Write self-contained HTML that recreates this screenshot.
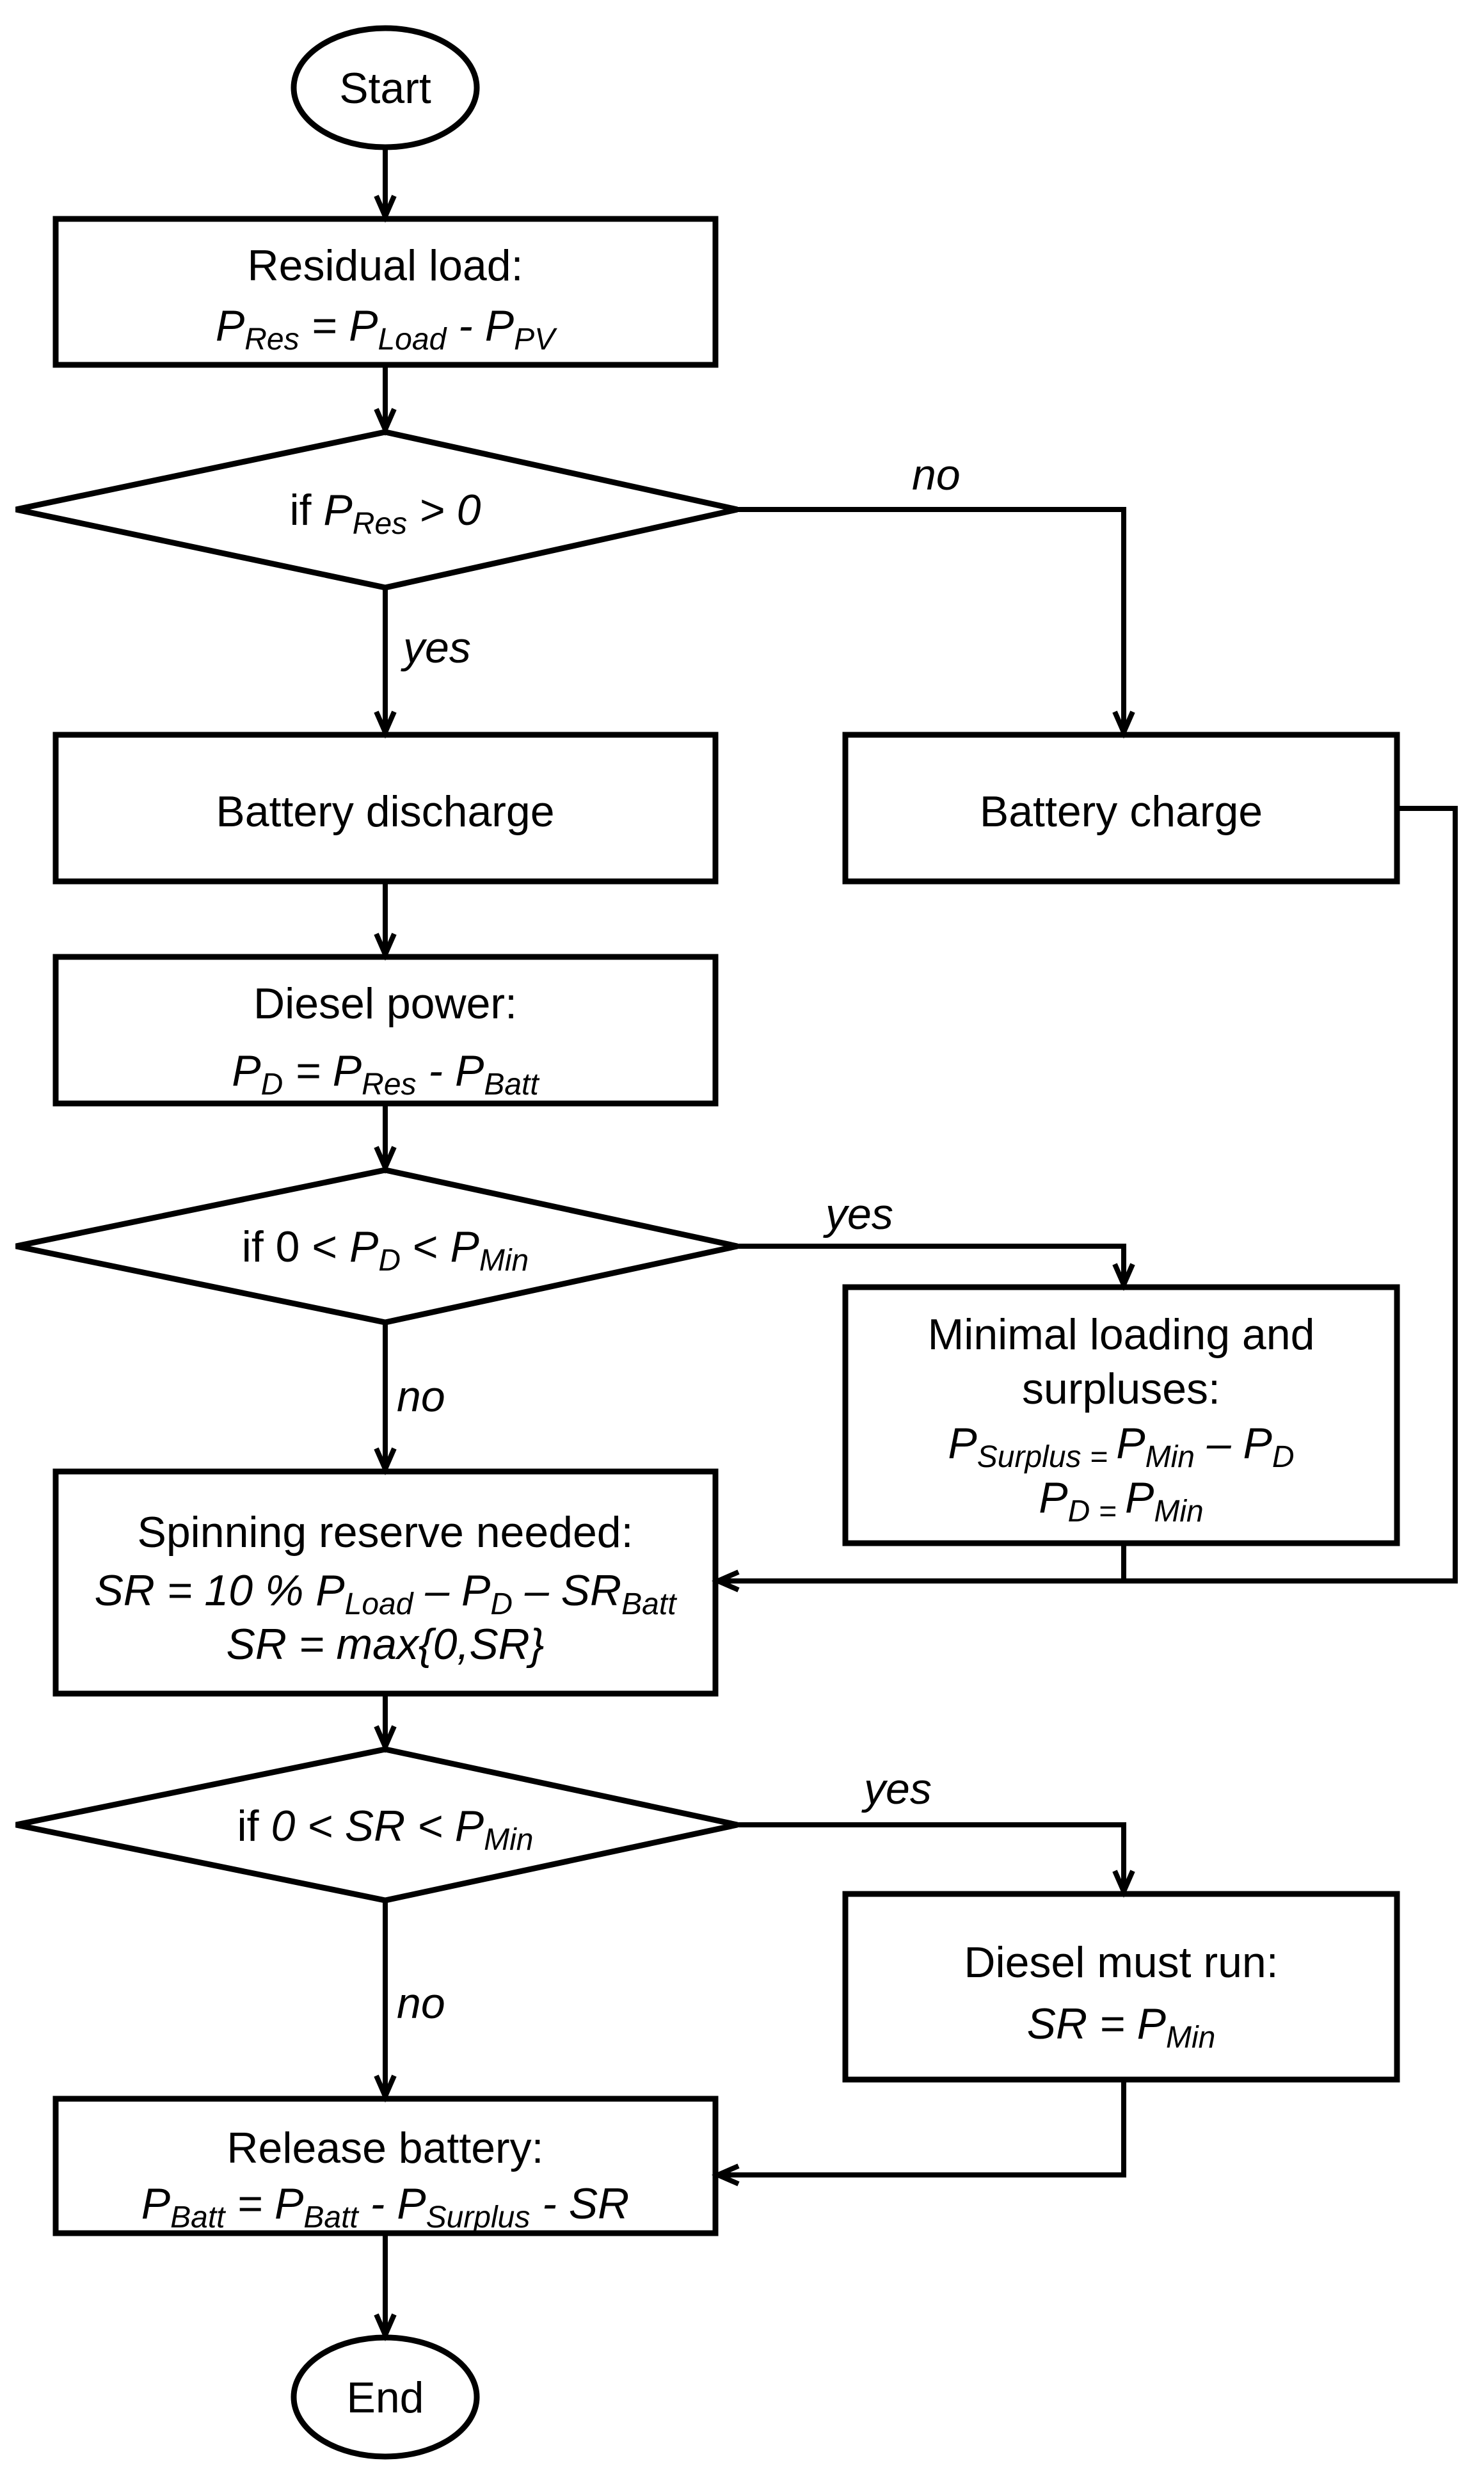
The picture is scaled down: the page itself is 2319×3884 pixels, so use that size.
<!DOCTYPE html>
<html><head><meta charset="utf-8"><style>
html,body{margin:0;padding:0;background:#fff}
svg{display:block}
text{font-family:"Liberation Sans",Arial,sans-serif;font-size:68px;fill:#000}
.i{font-style:italic}
.s{font-size:48px;font-style:italic}
</style></head><body>
<svg width="2319" height="3884" viewBox="0 0 2319 3884" xmlns="http://www.w3.org/2000/svg">
<g fill="none" stroke="#000" stroke-width="9" stroke-linejoin="miter">
<ellipse cx="602" cy="137" rx="143" ry="93"/>
<rect x="87" y="342" width="1031" height="228"/>
<polygon points="25,796 602,675 1152,796 602,918"/>
<rect x="87" y="1148" width="1031" height="229"/>
<rect x="1321" y="1148" width="862" height="229"/>
<rect x="87" y="1495" width="1031" height="229"/>
<polygon points="25,1947 602,1828 1152,1947 602,2066"/>
<rect x="1321" y="2011" width="862" height="400"/>
<rect x="87" y="2299" width="1031" height="347"/>
<polygon points="25,2851 602,2733 1152,2851 602,2969"/>
<rect x="1321" y="2959" width="862" height="290"/>
<rect x="87" y="3279" width="1031" height="210"/>
<ellipse cx="602" cy="3745" rx="143" ry="93"/>
</g>
<g fill="none" stroke="#000" stroke-width="8">
<!-- connectors -->
<line x1="602" y1="230" x2="602" y2="338"/>
<line x1="602" y1="570" x2="602" y2="671"/>
<line x1="602" y1="918" x2="602" y2="1144"/>
<polyline points="1152,796 1756,796 1756,1144"/>
<line x1="602" y1="1377" x2="602" y2="1491"/>
<line x1="602" y1="1724" x2="602" y2="1824"/>
<polyline points="1152,1947 1756,1947 1756,2007"/>
<line x1="602" y1="2066" x2="602" y2="2295"/>
<polyline points="2183,1263 2274,1263 2274,2470 1122,2470"/>
<line x1="1756" y1="2411" x2="1756" y2="2470"/>
<line x1="602" y1="2646" x2="602" y2="2729"/>
<polyline points="1152,2851 1756,2851 1756,2955"/>
<line x1="602" y1="2969" x2="602" y2="3275"/>
<polyline points="1756,3249 1756,3398 1122,3398"/>
<line x1="602" y1="3489" x2="602" y2="3648"/>
<!-- arrowheads -->
<polyline points="588,306 602,338 616,306"/>
<polyline points="588,639 602,671 616,639"/>
<polyline points="588,1112 602,1144 616,1112"/>
<polyline points="1742,1112 1756,1144 1770,1112"/>
<polyline points="588,1459 602,1491 616,1459"/>
<polyline points="588,1792 602,1824 616,1792"/>
<polyline points="1742,1975 1756,2007 1770,1975"/>
<polyline points="588,2263 602,2295 616,2263"/>
<polyline points="1154,2456 1122,2470 1154,2484"/>
<polyline points="588,2697 602,2729 616,2697"/>
<polyline points="1742,2923 1756,2955 1770,2923"/>
<polyline points="588,3243 602,3275 616,3243"/>
<polyline points="1154,3384 1122,3398 1154,3412"/>
<polyline points="588,3616 602,3648 616,3616"/>
</g>
<g text-anchor="middle">
<text x="602" y="161">Start</text>
<text x="602" y="438">Residual load:</text>
<text x="602" y="532" class="i">P<tspan class="s" dy="14">Res</tspan><tspan dy="-14"> = P</tspan><tspan class="s" dy="14">Load</tspan><tspan dy="-14"> - P</tspan><tspan class="s" dy="14">PV</tspan></text>
<text x="602" y="820">if <tspan class="i">P</tspan><tspan class="s" dy="14">Res</tspan><tspan class="i" dy="-14"> &gt; 0</tspan></text>
<text x="602" y="1291">Battery discharge</text>
<text x="1752" y="1291">Battery charge</text>
<text x="602" y="1591">Diesel power:</text>
<text x="602" y="1696" class="i">P<tspan class="s" dy="14">D</tspan><tspan dy="-14"> = P</tspan><tspan class="s" dy="14">Res</tspan><tspan dy="-14"> - P</tspan><tspan class="s" dy="14">Batt</tspan></text>
<text x="602" y="1971">if 0 &lt; <tspan class="i">P</tspan><tspan class="s" dy="14">D</tspan><tspan dy="-14"> &lt; </tspan><tspan class="i">P</tspan><tspan class="s" dy="14">Min</tspan></text>
<text x="1752" y="2108">Minimal loading and</text>
<text x="1752" y="2193">surpluses:</text>
<text x="1752" y="2278" class="i">P<tspan class="s" dy="14">Surplus = </tspan><tspan dy="-14">P</tspan><tspan class="s" dy="14">Min</tspan><tspan dy="-14"> – P</tspan><tspan class="s" dy="14">D</tspan></text>
<text x="1752" y="2363" class="i">P<tspan class="s" dy="14">D = </tspan><tspan dy="-14">P</tspan><tspan class="s" dy="14">Min</tspan></text>
<text x="602" y="2417">Spinning reserve needed:</text>
<text x="602" y="2508" class="i">SR = 10 % P<tspan class="s" dy="14">Load</tspan><tspan dy="-14"> – P</tspan><tspan class="s" dy="14">D</tspan><tspan dy="-14"> – SR</tspan><tspan class="s" dy="14">Batt</tspan></text>
<text x="602" y="2592" class="i">SR = max{0,SR}</text>
<text x="602" y="2876">if <tspan class="i">0 &lt; SR &lt; P</tspan><tspan class="s" dy="14">Min</tspan></text>
<text x="1752" y="3089">Diesel must run:</text>
<text x="1752" y="3185" class="i">SR = P<tspan class="s" dy="14">Min</tspan></text>
<text x="602" y="3379">Release battery:</text>
<text x="602" y="3466" class="i">P<tspan class="s" dy="14">Batt</tspan><tspan dy="-14"> = P</tspan><tspan class="s" dy="14">Batt</tspan><tspan dy="-14"> - P</tspan><tspan class="s" dy="14">Surplus</tspan><tspan dy="-14"> - SR</tspan></text>
<text x="602" y="3769">End</text>
</g>
<g class="i" font-style="italic">
<text x="1425" y="765" style="font-style:italic">no</text>
<text x="630" y="1035" style="font-style:italic">yes</text>
<text x="1290" y="1920" style="font-style:italic">yes</text>
<text x="620" y="2205" style="font-style:italic">no</text>
<text x="1350" y="2818" style="font-style:italic">yes</text>
<text x="620" y="3153" style="font-style:italic">no</text>
</g>
</svg>
</body></html>
